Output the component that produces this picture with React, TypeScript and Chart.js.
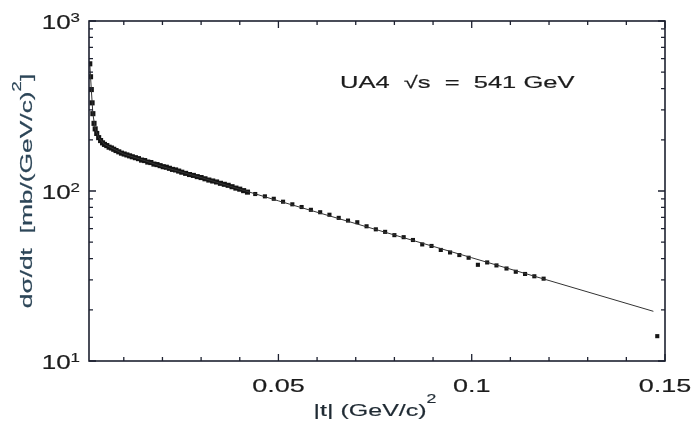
import React, { useEffect, useRef } from "react";
import { Chart, registerables } from "chart.js";

Chart.register(...registerables);

// |t| values (GeV/c)^2 and dσ/dt values mb/(GeV/c)^2
const tValues = [
  0.0012, 0.0014, 0.0016, 0.0018, 0.002, 0.0023, 0.0026, 0.003, 0.0035, 0.004,
  0.0045, 0.005, 0.0056, 0.0062, 0.0068, 0.0074, 0.008, 0.0087, 0.0094, 0.0101,
  0.0108, 0.0115, 0.0122, 0.013, 0.0138, 0.0146, 0.0154, 0.0162, 0.017, 0.0178,
  0.0186, 0.0194, 0.0202, 0.021, 0.0218, 0.0226, 0.0234, 0.0242, 0.025, 0.026,
  0.027, 0.028, 0.029, 0.03, 0.031, 0.032, 0.033, 0.034, 0.035, 0.036,
  0.037, 0.038, 0.039, 0.04, 0.041, 0.042,
  0.044, 0.0465, 0.0488, 0.0512, 0.0536, 0.056, 0.0584, 0.0608, 0.0632, 0.0656,
  0.068, 0.0704, 0.0728, 0.0752, 0.0776, 0.08, 0.0824, 0.0848, 0.0872, 0.0896,
  0.092, 0.0944, 0.0968, 0.0992, 0.1016, 0.104, 0.1064, 0.109, 0.1114, 0.1138,
  0.1162, 0.1186, 0.148,
];
const dsdtValues = [
  560, 470, 395, 330, 285, 250, 232, 218, 206, 198,
  192, 188, 185, 181, 179, 176, 173, 170, 167, 165,
  163, 161, 159, 157, 155, 152, 151, 148, 147, 144,
  143, 141, 139, 138, 136, 134, 133, 131, 129, 127,
  125, 123.5, 121.5, 120, 118, 116, 114.5, 113, 111, 109.5,
  108, 106, 104, 102.5, 100.5, 98.5,
  96, 93, 90, 86.5, 83.5, 80.5, 77.5, 75.0, 72.5, 69.5,
  67.0, 65.5, 62.0, 59.5, 57.5, 55.0, 53.5, 51.5, 48.5, 47.5,
  45.0, 43.5, 42.0, 40.5, 36.8, 38.0, 36.5, 35.0, 33.5, 32.5,
  31.5, 30.5, 14.0,
];

// fitted curve drawn through the data
const fitT = [0.0012, 0.0016, 0.002, 0.0026, 0.0035, 0.005, 0.0075, 0.01, 0.015, 0.02, 0.03, 0.04, 0.05, 0.1, 0.147];
const fitValues = [560, 395, 285, 232, 206, 188, 176, 165, 152, 139, 120, 102.5, 87.5, 40.5, 19.6];

const xMajorTicks = [0.05, 0.1, 0.15];
const xTickLabels = ["0.05", "0.1", "0.15"];
const xMinorTicks = [0.01, 0.02, 0.03, 0.04, 0.06, 0.07, 0.08, 0.09, 0.11, 0.12, 0.13, 0.14];
const yMajorTicks = [10, 100, 1000];
const yTickBase = ["10", "10", "10"];
const yTickExponents = ["1", "2", "3"];
const yMinorTicks = [20, 30, 40, 50, 60, 70, 80, 90, 200, 300, 400, 500, 600, 700, 800, 900];

const xTitleMain = "|t| (GeV/c)";
const xTitleSup = "2";
const yTitleMain = "dσ/dt  [mb/(GeV/c)";
const yTitleSup = "2";
const yTitleEnd = "]";
const annotationText = "UA4  √s  =  541 GeV";

const FONT = "'Liberation Sans', Arial, Helvetica, sans-serif";

type Seg = { text: string; size: number; dy: number };

// draws a run of text segments stretched horizontally by sx, starting at x=0 in current transform
function drawRun(ctx: CanvasRenderingContext2D, segs: Seg[], sx: number, align: "left" | "center" | "right") {
  let total = 0;
  const widths = segs.map((s) => {
    ctx.font = `${s.size}px ${FONT}`;
    const w = ctx.measureText(s.text).width;
    total += w;
    return w;
  });
  let x = align === "left" ? 0 : align === "center" ? -total / 2 : -total;
  ctx.save();
  ctx.scale(sx, 1);
  ctx.textAlign = "left";
  ctx.textBaseline = "alphabetic";
  ctx.strokeStyle = ctx.fillStyle as string;
  ctx.lineWidth = 0.2;
  segs.forEach((s, i) => {
    ctx.font = `${s.size}px ${FONT}`;
    ctx.fillText(s.text, x, s.dy);
    ctx.strokeText(s.text, x, s.dy);
    x += widths[i];
  });
  ctx.restore();
}

export default function App() {
  const canvasRef = useRef<HTMLCanvasElement | null>(null);

  useEffect(() => {
    document.body.style.margin = "0";
    const canvas = canvasRef.current;
    if (!canvas) return;

    const framePlugin = {
      id: "framePlugin",
      afterDraw(chart: any) {
        const { ctx, chartArea } = chart;
        const xs = chart.scales.x;
        const ys = chart.scales.y;
        const { left, right, top, bottom } = chartArea;
        ctx.save();
        ctx.strokeStyle = "#1d2130";
        ctx.lineWidth = 1.6;
        ctx.strokeRect(left, top, right - left, bottom - top);
        ctx.lineWidth = 1.3;
        const drawX = (v: number, len: number) => {
          const px = xs.getPixelForValue(v);
          ctx.beginPath();
          ctx.moveTo(px, bottom);
          ctx.lineTo(px, bottom - len);
          ctx.moveTo(px, top);
          ctx.lineTo(px, top + len);
          ctx.stroke();
        };
        const drawY = (v: number, len: number) => {
          const py = ys.getPixelForValue(v);
          ctx.beginPath();
          ctx.moveTo(left, py);
          ctx.lineTo(left + len, py);
          ctx.moveTo(right, py);
          ctx.lineTo(right - len, py);
          ctx.stroke();
        };
        xMajorTicks.forEach((v) => drawX(v, 7));
        xMinorTicks.forEach((v) => drawX(v, 4));
        yMajorTicks.forEach((v) => drawY(v, 7));
        yMinorTicks.forEach((v) => drawY(v, 4));

        ctx.fillStyle = "#1c1c1c";
        // y tick labels with superscript exponents
        yMajorTicks.forEach((v, i) => {
          const py = ys.getPixelForValue(v);
          ctx.save();
          ctx.translate(left - 9, py);
          drawRun(
            ctx,
            [
              { text: yTickBase[i], size: 20, dy: 8 },
              { text: yTickExponents[i], size: 13, dy: 1 },
            ],
            1.3,
            "right"
          );
          ctx.restore();
        });

        // x tick labels
        xMajorTicks.forEach((v, i) => {
          const px = xs.getPixelForValue(v);
          ctx.save();
          ctx.translate(px, bottom + 31);
          drawRun(ctx, [{ text: xTickLabels[i], size: 19, dy: 0 }], 1.42, "center");
          ctx.restore();
        });

        // x title
        ctx.save();
        ctx.fillStyle = "#1f2a33";
        ctx.translate((left + right) / 2 - 2, bottom + 55);
        drawRun(
          ctx,
          [
            { text: xTitleMain, size: 17, dy: 0 },
            { text: xTitleSup, size: 12, dy: -13 },
          ],
          1.47,
          "center"
        );
        ctx.restore();

        // y title (rotated)
        ctx.save();
        ctx.fillStyle = "#2d4658";
        ctx.translate(32, (top + bottom) / 2);
        ctx.rotate(-Math.PI / 2);
        drawRun(
          ctx,
          [
            { text: yTitleMain, size: 17, dy: 0 },
            { text: yTitleSup, size: 12, dy: -11 },
            { text: yTitleEnd, size: 17, dy: 0 },
          ],
          1.55,
          "center"
        );
        ctx.restore();

        // annotation
        ctx.save();
        ctx.fillStyle = "#1c1c1c";
        ctx.translate(340, 88);
        drawRun(ctx, [{ text: annotationText, size: 17, dy: 0 }], 1.5, "left");
        ctx.restore();

        ctx.restore();
      },
    };

    const chart = new Chart(canvas, {
      type: "scatter",
      data: {
        datasets: [
          {
            label: "fit",
            data: fitT.map((t, i) => ({ x: t, y: fitValues[i] })),
            showLine: true,
            borderColor: "#333333",
            borderWidth: 1,
            pointRadius: 0,
            tension: 0,
          },
          {
            label: "UA4",
            data: tValues.map((t, i) => ({ x: t, y: dsdtValues[i] })),
            showLine: false,
            pointStyle: "rect",
            pointRadius: (c: any) => (c.raw && c.raw.x < 0.043 ? 3.6 : 2.9),
            backgroundColor: "#151515",
            borderColor: "#151515",
            borderWidth: 0,
          },
        ],
      },
      options: {
        animation: false,
        responsive: true,
        maintainAspectRatio: false,
        layout: { padding: { top: 21, right: 26, left: 0, bottom: 0 } },
        plugins: {
          legend: { display: false },
          tooltip: { enabled: false },
        },
        scales: {
          x: {
            type: "linear",
            min: 0.001,
            max: 0.15,
            grid: { display: false, drawTicks: false },
            border: { display: false },
            ticks: { display: false },
            afterFit: (s: any) => {
              s.height = 70;
              s.paddingLeft = 0;
              s.paddingRight = 0;
            },
          },
          y: {
            type: "logarithmic",
            min: 10,
            max: 1000,
            grid: { display: false, drawTicks: false },
            border: { display: false },
            ticks: { display: false },
            afterFit: (s: any) => {
              s.width = 89;
              s.paddingTop = 0;
              s.paddingBottom = 0;
            },
          },
        },
      },
      plugins: [framePlugin],
    } as any);

    return () => chart.destroy();
  }, []);

  return (
    <div style={{ position: "fixed", left: 0, top: 0, width: 691, height: 431, background: "#fff" }}>
      <canvas ref={canvasRef} />
    </div>
  );
}
